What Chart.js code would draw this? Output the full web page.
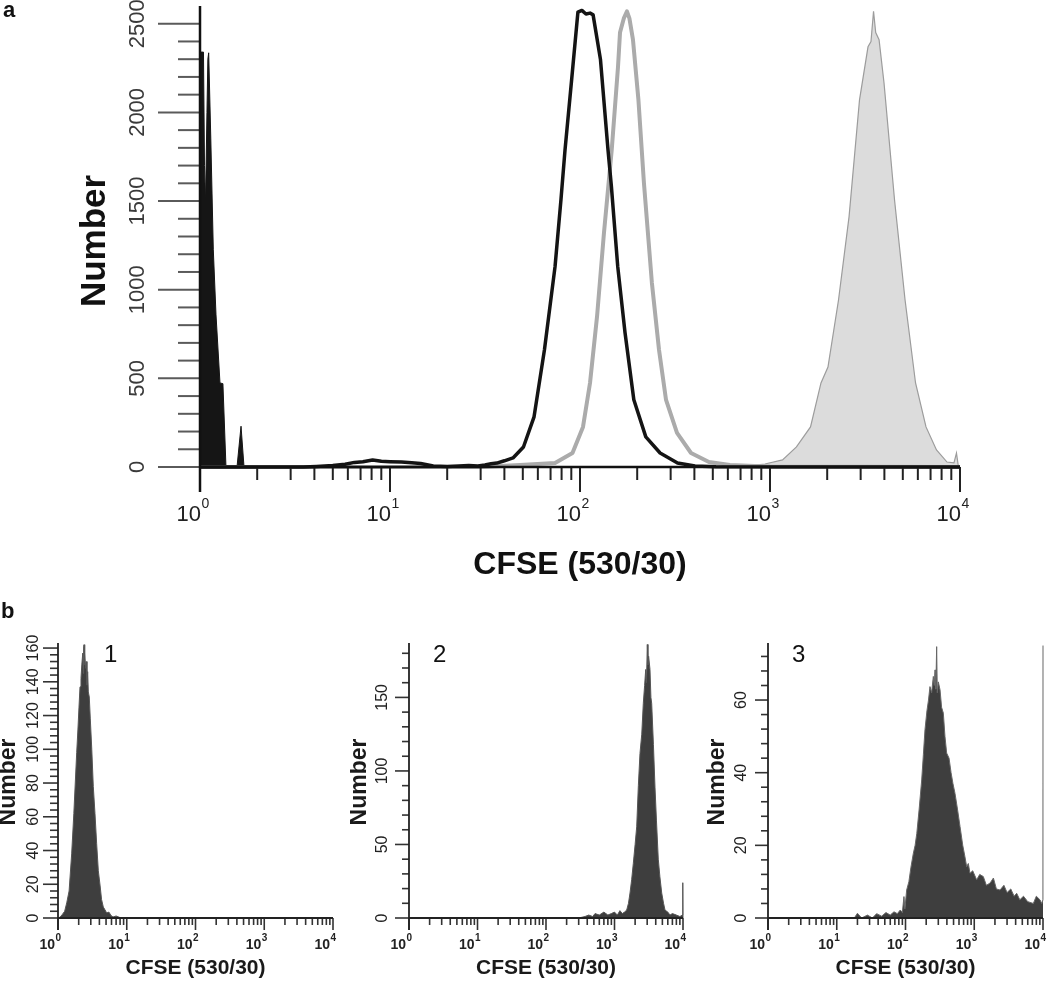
<!DOCTYPE html>
<html lang="en">
<head>
<meta charset="UTF-8">
<title>CFSE histograms</title>
<script src="https://cdn.jsdelivr.net/npm/chart.js"></script>
<style>
    * { margin: 0; padding: 0; box-sizing: border-box; }
    body { background: #ffffff; width: 1050px; height: 983px; overflow: hidden; }
    #wrap { position: relative; width: 1050px; height: 983px; }
    canvas { position: absolute; }
</style>
</head>
<body>
<div id="wrap">
    <canvas id="chartA" width="1050" height="600" style="left:0;top:0"></canvas>
    <canvas id="chartB1" width="350" height="393" style="left:0;top:590px"></canvas>
    <canvas id="chartB2" width="350" height="393" style="left:350px;top:590px"></canvas>
    <canvas id="chartB3" width="350" height="393" style="left:700px;top:590px"></canvas>
</div>
<script>
// ---- panel a: CFSE (x, log) vs cell number ----
const blackFillX = [1.0, 1.0, 1.005, 1.012, 1.043, 1.056, 1.069, 1.088, 1.1, 1.111, 1.14, 1.175, 1.214, 1.274, 1.32, 1.37, 1.566, 1.644, 1.705];
const blackFillY = [0, 2575, 2575, 2340, 2340, 1700, 1490, 2000, 2300, 2336, 1850, 1225, 858, 474, 470, 0, 0, 230, 0];

const blackLineX = [1, 3.5, 4.1, 5.0, 5.8, 6.5, 7.2, 8.1, 9.0, 10, 11.5, 13, 14.5, 16.9, 20, 23, 26, 29, 31.6, 34,
    36.5, 40, 44.4, 50.4, 57.3, 65, 73.9, 79.4, 83.4, 90.1, 97.5, 102.3, 107.5, 112.9, 117.2, 128.1, 140.4, 146.3, 158, 172.6,
    192, 222, 264, 326, 403, 520, 10000];
const blackLineY = [0, 0, 3, 8, 16, 26, 30, 40, 32, 30, 28, 24, 20, 6, 3, 5, 8, 6, 11, 18,
    22, 35, 51, 113, 283, 661, 1130, 1508, 1789, 2170, 2565, 2575, 2555, 2560, 2550, 2300, 1789, 1582, 1130, 757,
    379, 170, 79, 23, 6, 2, 0];

const grayLineX = [1, 30, 48.3, 73.9, 91.3, 103.7, 112.9, 122.9, 133.7, 146.9, 158.5, 162.4, 170, 176.7, 182, 190, 203, 217, 239, 260.6,
    283.7, 324, 384, 477, 615, 828, 1000, 10000];
const grayLineY = [0, 0, 11, 23, 79, 226, 474, 847, 1320, 1789, 2257, 2450, 2530, 2570, 2530, 2410, 2071, 1603, 1038, 660,
    378, 192, 79, 28, 11, 6, 3, 0];

const grayFillX = [700, 761, 941, 1164, 1378, 1634, 1855, 2019, 2294, 2606, 2959, 3280, 3400, 3507, 3600, 3750, 3981, 4522, 5139, 5835,
    6623, 7520, 8544, 9294, 9580, 9800, 10000];
const grayFillY = [0, 6, 17, 40, 113, 226, 474, 564, 942, 1411, 2071, 2370, 2400, 2570, 2450, 2410, 2167, 1507, 942, 474,
    226, 96, 28, 23, 79, 5, 0];

// ---- panel b: three single histograms ----
const b1X = [1.0, 1.07, 1.15, 1.25, 1.34, 1.45, 1.58, 1.7, 1.87, 1.95, 2.02, 2.09, 2.16, 2.22, 2.29, 2.33, 2.36, 2.39, 2.42, 2.47,
    2.52, 2.58, 2.64, 2.7, 2.76, 2.85, 2.95, 3.1, 3.26, 3.45, 3.65, 3.86, 4.1, 4.3, 4.56, 4.8, 5.11, 5.5, 5.9, 6.31,
    7.0, 7.8, 8.6, 10000];
const b1Y = [0, 0.5, 2, 4, 9, 16, 38, 62, 98, 112, 125, 137, 142, 150, 157, 145, 160, 162, 150, 157,
    148, 152, 138, 146, 134, 131, 118, 100, 78, 62, 44, 28, 19, 11, 6.5, 5, 3, 3.5, 1.5, 0.6,
    1.2, 0.4, 0, 0];

const b2X = [300, 371, 420, 480, 520, 600, 700, 800, 900, 1000, 1100, 1200, 1300, 1400, 1507, 1600, 1684, 1780, 1881, 2000,
    2109, 2230, 2356, 2500, 2633, 2750, 2855, 2930, 3013, 3080, 3150, 3297, 3400, 3490, 3700, 3900, 4100, 4357, 4600, 4888,
    5200, 5462, 6000, 6457, 7000, 8000, 9000, 9800, 9900, 9960, 10000];
const b2Y = [0, 1, 2, 1, 3, 2, 4, 2, 3, 4, 2, 5, 3, 4, 5.4, 10, 17, 26, 37, 50,
    62, 90, 112, 125, 146, 158, 169, 160, 186, 172, 178, 169, 150, 146, 118, 89, 66, 40, 28, 17,
    10, 5.4, 4, 2, 3, 2, 1, 2, 2, 24, 0];

const b3X = [18, 20, 23, 28, 33, 38, 45, 52, 60, 68, 76, 84, 90, 95, 98, 104, 112, 120, 130, 138,
    146, 158, 172, 182, 192, 205, 216, 227, 240, 254, 262, 269, 276, 284, 290, 300, 318, 335, 355, 375,
    397, 430, 460, 490, 525, 570, 621, 680, 730, 776, 820, 867, 950, 1084, 1200, 1355, 1500, 1694, 1900, 2100,
    2371, 2700, 3000, 3400, 3800, 4142, 4600, 5200, 6000, 7230, 8000, 9040, 9600, 9980, 10000];
const b3Y = [0, 1.3, 0, 0.8, 0, 1.2, 0.5, 1.5, 0.8, 1.7, 1.2, 2.2, 1.5, 5.9, 2.5, 7.7, 10, 14, 17.8, 20,
    23.3, 30, 38, 45, 51.8, 57, 60, 63.7, 62, 66.5, 64, 68.3, 63, 74.7, 62, 65, 62.8, 58, 56.4, 50,
    45.4, 44, 40, 37, 34.3, 30, 25.2, 20, 17, 14.1, 15, 12.3, 13, 10.5, 12, 11.4, 9, 9.6, 11, 8,
    7.7, 9, 7, 8, 6, 6.8, 5, 6, 4.5, 4, 6, 5, 4, 5, 75];

// tick labels
const decadeExp = ['0', '1', '2', '3', '4'];
const aYLabels = ['0', '500', '1000', '1500', '2000', '2500'];
const b1YLabels = ['0', '20', '40', '60', '80', '100', '120', '140', '160'];
const b2YLabels = ['0', '50', '100', '150'];
const b3YLabels = ['0', '20', '40', '60'];

const FONT = '"Liberation Sans", Arial, Helvetica, sans-serif';

function points(xs, ys) {
    return xs.map((x, i) => ({ x: x, y: ys[i] }));
}

// flow-cytometry style axes: outward ticks, rotated y labels, 10^n decade labels
const facsAxes = {
    id: 'facsAxes',
    afterDatasetsDraw(chart, args, o) {
        const ctx = chart.ctx;
        const xs = chart.scales.x, ys = chart.scales.y;
        const x0 = xs.getPixelForValue(1);
        const x4 = xs.getPixelForValue(10000);
        const y0 = ys.getPixelForValue(0);
        const top = chart.chartArea.top;
        const line = (ax, ay, bx, by) => { ctx.beginPath(); ctx.moveTo(ax, ay); ctx.lineTo(bx, by); ctx.stroke(); };
        ctx.save();

        // y ticks
        ctx.strokeStyle = o.yTickColor;
        ctx.lineWidth = o.tickWidth;
        const n = Math.round(o.yTickMax / o.yMinor);
        const every = Math.round(o.yMajor / o.yMinor);
        for (let i = 0; i <= n; i++) {
            const py = ys.getPixelForValue(i * o.yMinor);
            line(x0 - (i % every === 0 ? o.yMajorLen : o.yMinorLen), py, x0, py);
        }

        // x ticks (log decades)
        ctx.strokeStyle = o.xTickColor;
        for (let d = 0; d <= 4; d++) {
            for (let k = 1; k <= 9; k++) {
                if (d === 4 && k > 1) break;
                const px = xs.getPixelForValue(k * Math.pow(10, d));
                line(px, y0, px, y0 + (k === 1 ? o.xMajorLen : o.xMinorLen));
            }
        }

        // axis lines
        ctx.strokeStyle = o.axisColor;
        ctx.lineWidth = o.axisWidth;
        line(x0, y0 + o.xMajorLen, x0, top);
        line(x0, y0, x4, y0);

        // y labels, rotated
        ctx.fillStyle = o.labelColor;
        ctx.font = o.yLabelFont;
        ctx.textAlign = 'center';
        ctx.textBaseline = 'middle';
        o.yLabels.forEach(lab => {
            ctx.save();
            ctx.translate(o.yLabelX, ys.getPixelForValue(Number(lab)));
            ctx.rotate(-Math.PI / 2);
            ctx.fillText(lab, 0, 0);
            ctx.restore();
        });

        // x labels: 10 with superscript exponent
        ctx.fillStyle = o.xLabelColor;
        ctx.textBaseline = 'alphabetic';
        decadeExp.forEach(e => {
            const px = xs.getPixelForValue(Math.pow(10, Number(e))) + o.xLabelShift;
            ctx.font = o.xFont;
            ctx.textAlign = 'right';
            ctx.fillText('10', px, o.xLabelY);
            ctx.font = o.xSupFont;
            ctx.textAlign = 'left';
            ctx.fillText(e, px + 0.5, o.xSupY);
        });

        // axis titles
        ctx.fillStyle = o.titleColor;
        ctx.textAlign = 'center';
        ctx.textBaseline = 'middle';
        ctx.font = o.xTitleFont;
        ctx.fillText(o.xTitle, (x0 + x4) / 2, o.xTitleY);
        ctx.save();
        ctx.translate(o.yTitleX, o.yTitleY);
        ctx.rotate(-Math.PI / 2);
        ctx.font = o.yTitleFont;
        ctx.fillText(o.yTitle, 0, 0);
        ctx.restore();

        // panel tags
        ctx.textAlign = 'left';
        ctx.textBaseline = 'alphabetic';
        o.tags.forEach(t => {
            ctx.font = t.font;
            ctx.fillStyle = '#111';
            ctx.fillText(t.text, t.x, t.y);
        });
        ctx.restore();
    }
};

function makeChart(id, datasets, yMax, padding, axes) {
    return new Chart(document.getElementById(id), {
        type: 'line',
        data: { datasets: datasets },
        options: {
            responsive: false,
            animation: false,
            layout: { padding: padding },
            elements: { point: { radius: 0 }, line: { tension: 0 } },
            plugins: {
                legend: { display: false },
                tooltip: { enabled: false },
                facsAxes: axes
            },
            scales: {
                x: { type: 'logarithmic', min: 1, max: 10000, display: false },
                y: { type: 'linear', min: 0, max: yMax, display: false }
            }
        },
        plugins: [facsAxes]
    });
}

function histo(xs, ys, fillColor, lineColor, width, order) {
    return {
        data: points(xs, ys),
        fill: 'origin',
        backgroundColor: fillColor,
        borderColor: lineColor,
        borderWidth: width,
        order: order,
        clip: 6
    };
}

function outline(xs, ys, color, width, order) {
    return {
        data: points(xs, ys),
        fill: false,
        borderColor: color,
        borderWidth: width,
        borderJoinStyle: 'round',
        order: order,
        clip: 6
    };
}

// panel a
makeChart('chartA', [
    outline(blackLineX, blackLineY, '#141414', 3.5, 0),
    outline(grayLineX, grayLineY, '#ababab', 4, 1),
    histo(blackFillX, blackFillY, '#151515', '#151515', 1, 2),
    histo(grayFillX, grayFillY, '#dcdcdc', '#9c9c9c', 1.2, 3)
], 2600, { left: 200, right: 90, top: 6, bottom: 133 }, {
    yMinor: 100, yMajor: 500, yTickMax: 2500, yMajorLen: 42, yMinorLen: 22,
    yTickColor: '#5a5a5a', tickWidth: 2,
    xMajorLen: 25, xMinorLen: 13, xTickColor: '#222', axisColor: '#111', axisWidth: 2.5,
    yLabels: aYLabels, yLabelX: 138, yLabelFont: '22px ' + FONT, labelColor: '#3a3a3a',
    xLabelY: 521, xSupY: 508, xFont: '22px ' + FONT, xSupFont: '14px ' + FONT, xLabelShift: 1, xLabelColor: '#222',
    titleColor: '#111',
    yTitle: 'Number', yTitleX: 95, yTitleY: 241, yTitleFont: 'bold 35px ' + FONT,
    xTitle: 'CFSE (530/30)', xTitleY: 565, xTitleFont: 'bold 32px ' + FONT,
    tags: [{ text: 'a', x: 3, y: 17, font: 'bold 22px ' + FONT }]
});

// panel b
const bAxes = {
    tickWidth: 1.6, yTickColor: '#333', xTickColor: '#333', axisColor: '#222', axisWidth: 1.8,
    xMajorLen: 12, xMinorLen: 7,
    yLabelFont: '16px ' + FONT, labelColor: '#222',
    xLabelY: 359, xSupY: 351, xFont: 'bold 14px ' + FONT, xSupFont: 'bold 10px ' + FONT, xLabelShift: -3, xLabelColor: '#222',
    titleColor: '#1a1a1a',
    yTitle: 'Number', yTitleY: 192, yTitleFont: 'bold 23px ' + FONT,
    xTitle: 'CFSE (530/30)', xTitleY: 378, xTitleFont: 'bold 21px ' + FONT
};

makeChart('chartB1', [histo(b1X, b1Y, '#3e3e3e', '#555', 1, 0)], 163,
    { left: 58, right: 17, top: 53, bottom: 65 },
    Object.assign({}, bAxes, {
        yMinor: 4, yMajor: 20, yTickMax: 160, yMajorLen: 15, yMinorLen: 8,
        yLabels: b1YLabels, yLabelX: 34, yTitleX: 9,
        tags: [{ text: '1', x: 104, y: 72, font: '24px ' + FONT }, { text: 'b', x: 1, y: 28, font: 'bold 22px ' + FONT }]
    }));

makeChart('chartB2', [histo(b2X, b2Y, '#3e3e3e', '#555', 1, 0)], 187,
    { left: 59, right: 17, top: 53, bottom: 65 },
    Object.assign({}, bAxes, {
        yMinor: 10, yMajor: 50, yTickMax: 180, yMajorLen: 14, yMinorLen: 7,
        yLabels: b2YLabels, yLabelX: 33, yTitleX: 10,
        tags: [{ text: '2', x: 83, y: 72, font: '24px ' + FONT }]
    }));

makeChart('chartB3', [histo(b3X, b3Y, '#3e3e3e', '#666', 1, 0)], 75.7,
    { left: 68, right: 7, top: 53, bottom: 65 },
    Object.assign({}, bAxes, {
        yMinor: 4, yMajor: 20, yTickMax: 72, yMajorLen: 13, yMinorLen: 7,
        yLabels: b3YLabels, yLabelX: 42, yTitleX: 18,
        tags: [{ text: '3', x: 92, y: 72, font: '24px ' + FONT }]
    }));
</script>
</body>
</html>
